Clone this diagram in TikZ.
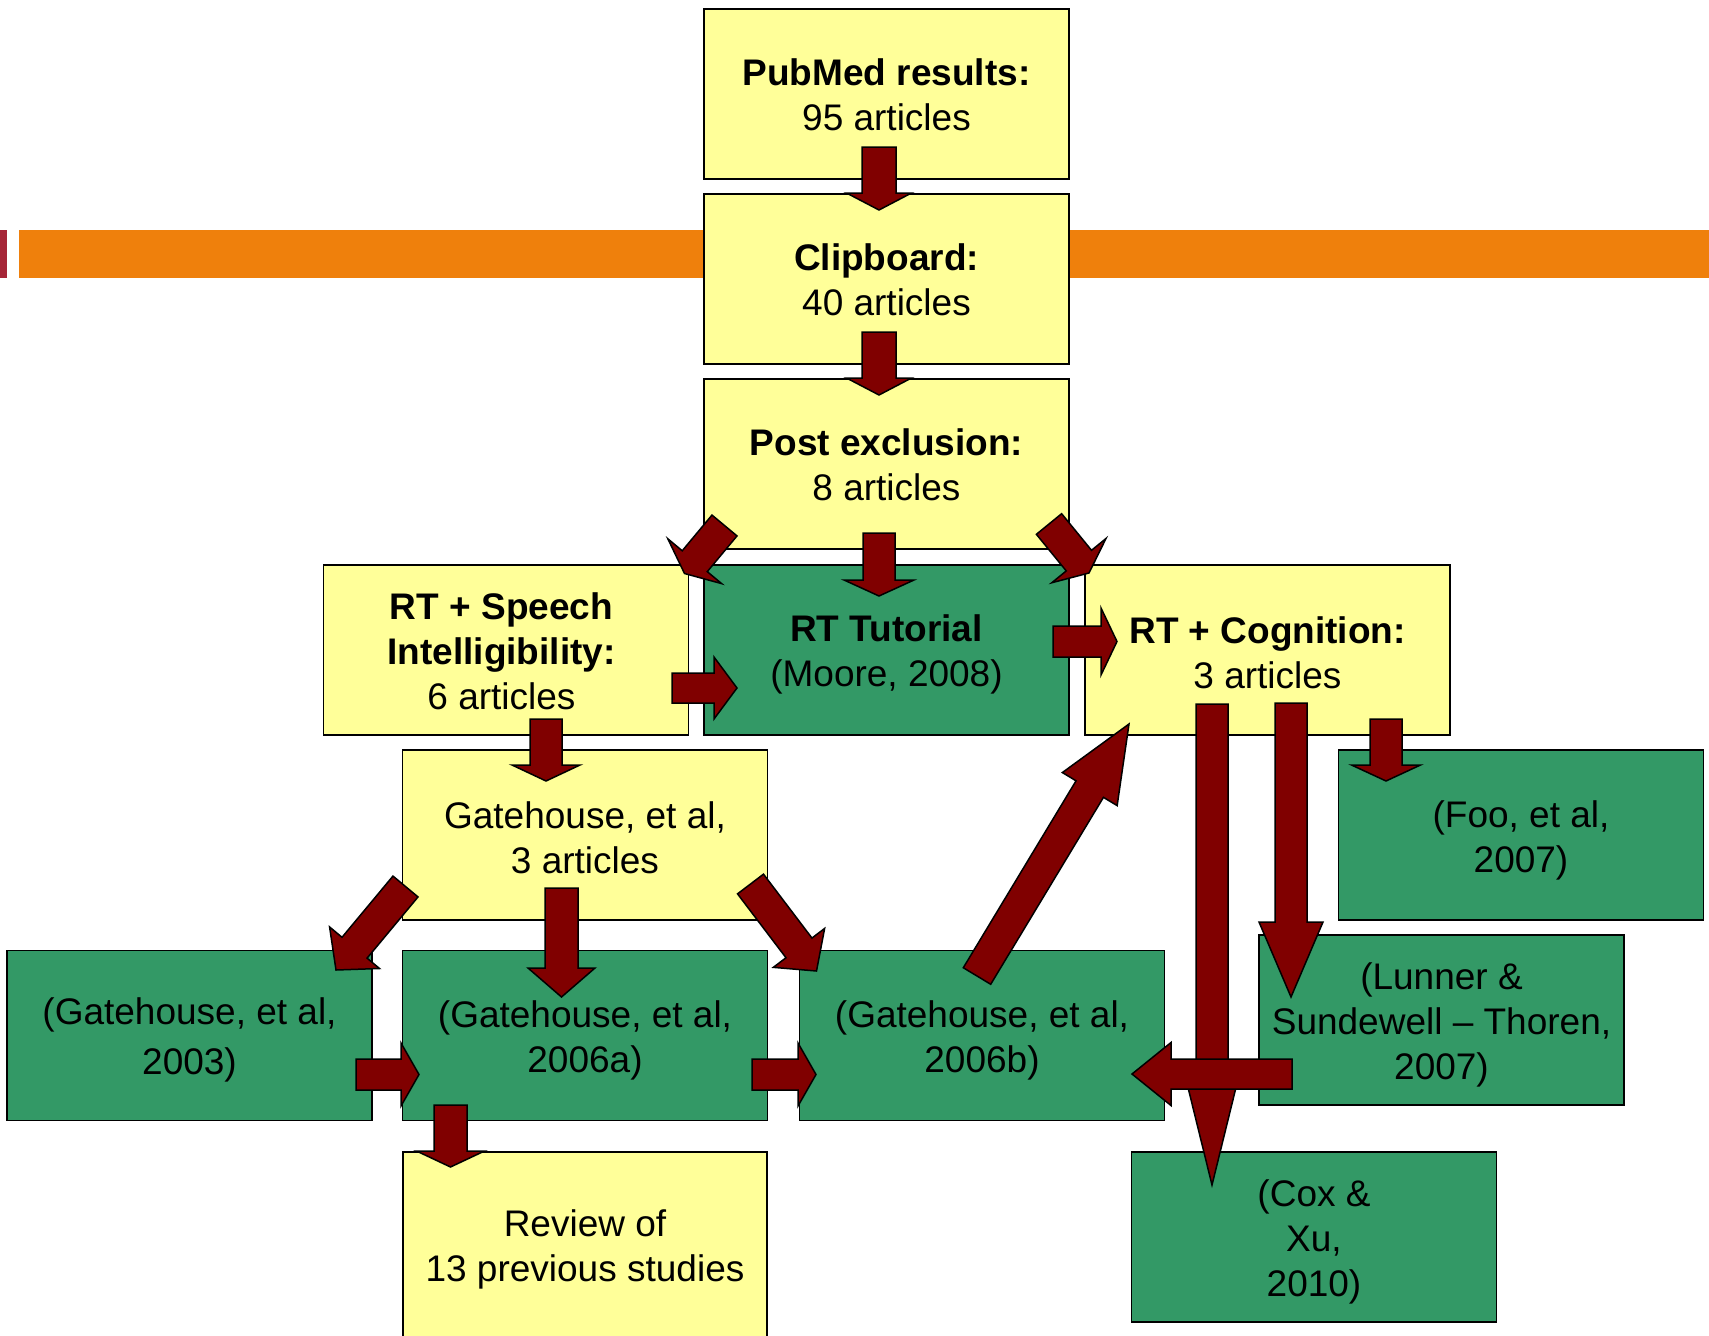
\documentclass[tikz,border=0pt]{standalone}
\usepackage{fontspec}
\setmainfont{Liberation Sans}
\usetikzlibrary{calc}
\definecolor{boxyellow}{RGB}{255,255,153}
\definecolor{boxgreen}{RGB}{51,153,102}
\definecolor{arrowred}{RGB}{128,0,0}
\definecolor{bandorange}{RGB}{239,128,12}
\definecolor{bandred}{RGB}{166,38,56}
\tikzset{
  boxbase/.style={draw=black, line width=1.6pt, minimum width=365pt, minimum height=170pt, inner sep=0pt},
  ybox/.style={boxbase, fill=boxyellow},
  gbox/.style={boxbase, fill=boxgreen},
  txt/.style={align=center, inner sep=0pt, font=\fontsize{37}{45}\selectfont},
  blockarrow/.style={draw=black, line width=1.5pt, fill=arrowred, line join=miter},
}
\newcommand\trsp{\hspace{10pt}}
% #1 tail, #2 tip, #3 shaft half width, #4 head half width, #5 head length
\newcommand\blkarrow[5]{%
  \coordinate (bhtmp) at ($(#2)!#5!(#1)$);
  \draw[blockarrow] ($(#1)!#3!90:(#2)$) -- ($(bhtmp)!#3!-90:(#1)$) -- ($(bhtmp)!#4!-90:(#1)$)
    -- (#2) -- ($(bhtmp)!#4!90:(#1)$) -- ($(bhtmp)!#3!90:(#1)$) -- ($(#1)!#3!-90:(#2)$) -- cycle;
}
\begin{document}
\begin{tikzpicture}[x=1pt,y=-1pt]
\useasboundingbox (0,0) rectangle (1709,1336);
% header band
\fill[bandred] (0,230) rectangle (7,278);
\fill[bandorange] (19,230) rectangle (1709,278);
% boxes
\node[ybox] (pub) at (886.5,94) {};
\node[ybox] (clip) at (886.5,279) {};
\node[ybox] (post) at (886.5,464) {};
\node[ybox] (speech) at (506,650) {};
\node[gbox] (tut) at (886.5,650) {};
\node[ybox] (cog) at (1267.5,650) {};
\node[ybox] (gthree) at (585,835) {};
\node[gbox] (foo) at (1521,835) {};
\node[gbox] (gA) at (189.5,1035.5) {};
\node[gbox] (gB) at (585,1035.5) {};
\node[gbox] (gC) at (982,1035.5) {};
\node[gbox] (lun) at (1441.5,1020) {};
\node[gbox] (cox) at (1314,1237) {};
\draw[fill=boxyellow, draw=black, line width=1.6pt] (403,1152) rectangle (767,1350);
\coordinate (rev) at (585,1245);
% texts
\node[txt] (pubT) at ([yshift=-1pt]pub.center) {\textbf{PubMed results:}\\95 articles};
\node[txt] (clipT) at ([yshift=-1pt]clip.center) {\textbf{Clipboard:}\\40 articles};
\node[txt] (postT) at ([yshift=-1pt]post.center) {\textbf{Post exclusion:}\\8 articles};
\node[txt] (speechT) at ([xshift=-4.5pt,yshift=-1.5pt]speech.center) {\textbf{RT + Speech}\\\textbf{Intelligibility:}\\6 articles};
\node[txt] (tutT) at ([yshift=-4pt]tut.center) {\textbf{RT Tutorial}\\(Moore, 2008)};
\node[txt] (cogT) at ([yshift=-3pt]cog.center) {\textbf{RT + Cognition:}\\3 articles};
\node[txt] (gthreeT) at ([yshift=-3pt]gthree.center) {Gatehouse, et al,\\3 articles\trsp};
\node[txt] (fooT) at ([yshift=-5pt]foo.center) {(Foo, et al,\\2007)};
\node[txt] (gAT) at ([yshift=-4.5pt]gA.center) {(Gatehouse, et al,\\[5pt]2003)\trsp};
\node[txt] (gBT) at ([yshift=-4.5pt]gB.center) {(Gatehouse, et al,\\2006a)\trsp};
\node[txt] (gCT) at ([yshift=-4.5pt]gC.center) {(Gatehouse, et al,\\2006b)};
\node[txt] (lunT) at ([yshift=-4.5pt]lun.center) {(Lunner \&\trsp\\Sundewell – Thoren,\\2007)};
\node[txt] (coxT) at ([yshift=-4.5pt]cox.center) {(Cox \&\trsp\\Xu,\\2010)};
\node[txt] (revT) at ([yshift=-4.5pt]rev) {Review of\\13 previous studies};
% arrow end points
\coordinate (a1t) at (879,147);   \coordinate (a1h) at (879,210);
\coordinate (a2t) at (879,332);   \coordinate (a2h) at (879,395);
\coordinate (a3t) at (879,533);   \coordinate (a3h) at (879,596);
\coordinate (a4t) at (724.5,525.5); \coordinate (a4h) at (684.5,573.5);
\coordinate (a5t) at (1049,524);  \coordinate (a5h) at (1089,573);
\coordinate (a6t) at (672,688);   \coordinate (a6h) at (737,688);
\coordinate (a7t) at (1053,641.5); \coordinate (a7h) at (1117,641.5);
\coordinate (a8t) at (546,719);   \coordinate (a8h) at (546,781);
\coordinate (a9t) at (561.5,888); \coordinate (a9h) at (561.5,997);
\coordinate (a10t) at (405.5,886.5); \coordinate (a10h) at (336,970);
\coordinate (a11t) at (750.5,884); \coordinate (a11h) at (816.5,971);
\coordinate (a12t) at (356,1074.5); \coordinate (a12h) at (419,1074.5);
\coordinate (a13t) at (752,1074.5); \coordinate (a13h) at (816,1074.5);
\coordinate (a14t) at (450.5,1105); \coordinate (a14h) at (450.5,1167);
\coordinate (a15t) at (977,976);  \coordinate (a15h) at (1129,724);
\coordinate (a16t) at (1212,704); \coordinate (a16h) at (1212,1185);
\coordinate (a17t) at (1291,703); \coordinate (a17h) at (1291,997);
\coordinate (a18t) at (1386,719); \coordinate (a18h) at (1386,781);
\coordinate (a19t) at (1292,1074); \coordinate (a19h) at (1132,1074);
% arrows
\blkarrow{a1t}{a1h}{17pt}{32.5pt}{17pt}
\blkarrow{a2t}{a2h}{17pt}{32.5pt}{17pt}
\blkarrow{a3t}{a3h}{16pt}{35pt}{16pt}
\blkarrow{a4t}{a4h}{16.3pt}{35pt}{16pt}
\blkarrow{a5t}{a5h}{16.3pt}{35pt}{16pt}
\blkarrow{a6t}{a6h}{15pt}{31pt}{23pt}
\blkarrow{a7t}{a7h}{15.5pt}{33.5pt}{16pt}
\blkarrow{a8t}{a8h}{16pt}{34pt}{16pt}
\blkarrow{a9t}{a9h}{16.5pt}{33.5pt}{29pt}
\blkarrow{a10t}{a10h}{16.3pt}{32.5pt}{29pt}
\blkarrow{a11t}{a11h}{16.3pt}{32.2pt}{29pt}
\blkarrow{a12t}{a12h}{15.5pt}{31.5pt}{18pt}
\blkarrow{a13t}{a13h}{15.5pt}{31.5pt}{18pt}
\blkarrow{a14t}{a14h}{16.5pt}{34pt}{16pt}
\blkarrow{a15t}{a15h}{16pt}{32pt}{76pt}
\blkarrow{a16t}{a16h}{16pt}{30pt}{122pt}
\blkarrow{a17t}{a17h}{16pt}{32pt}{75pt}
\blkarrow{a18t}{a18h}{16pt}{34.5pt}{16pt}
\blkarrow{a19t}{a19h}{15pt}{31.5pt}{39pt}
\end{tikzpicture}
\end{document}
